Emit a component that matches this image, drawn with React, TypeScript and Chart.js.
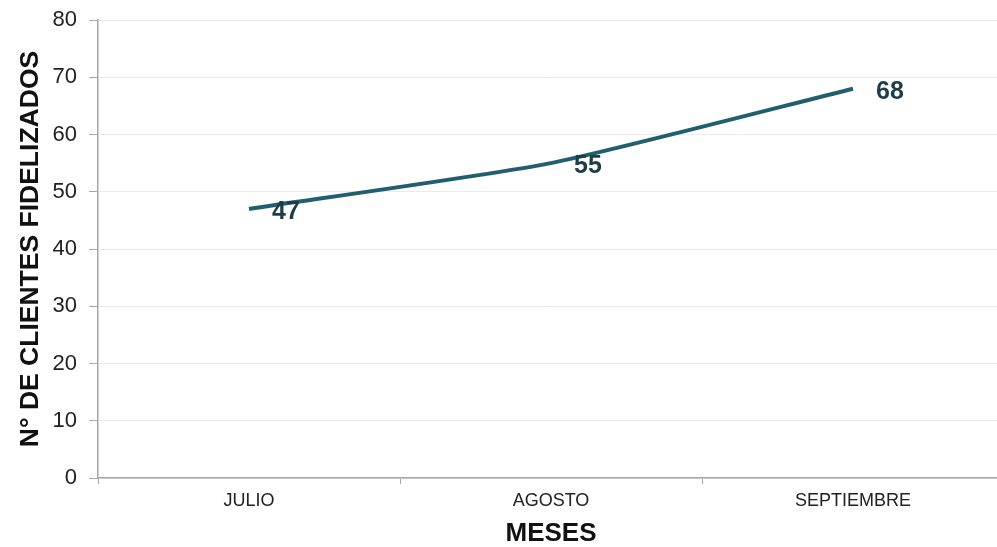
import React, { useEffect, useRef } from "react";
import { Chart, registerables } from "chart.js";

Chart.register(...registerables);

const meses = ["JULIO", "AGOSTO", "SEPTIEMBRE"];
const clientesFidelizados = [47, 55, 68];
const yTicks = [0, 10, 20, 30, 40, 50, 60, 70, 80];

const LINE_COLOR = "#215F6E";
const LABEL_COLOR = "#1D3E49";

// Draws each point's value to the right of the point
const valueLabels = {
  id: "valueLabels",
  afterDatasetsDraw(chart: any) {
    const ctx = chart.ctx;
    const meta = chart.getDatasetMeta(0);
    ctx.save();
    ctx.font = "bold 25px 'Liberation Sans', Arial, sans-serif";
    ctx.fillStyle = LABEL_COLOR;
    ctx.textAlign = "center";
    ctx.textBaseline = "middle";
    meta.data.forEach((pt: any, i: number) => {
      ctx.fillText(String(chart.data.datasets[0].data[i]), pt.x + 37, pt.y + 3);
    });
    ctx.restore();
  },
};

export default function App() {
  const canvasRef = useRef<HTMLCanvasElement | null>(null);

  useEffect(() => {
    if (!canvasRef.current) return;
    const chart = new Chart(canvasRef.current, {
      type: "line",
      data: {
        labels: meses,
        datasets: [
          {
            data: clientesFidelizados,
            borderColor: LINE_COLOR,
            borderWidth: 4,
            pointRadius: 0,
            tension: 0.18,
            fill: false,
          },
        ],
      },
      options: {
        animation: false,
        responsive: false,
        layout: { padding: { left: 0, right: 6, top: 20, bottom: 0 } },
        plugins: { legend: { display: false }, tooltip: { enabled: false } },
        scales: {
          x: {
            offset: true,
            afterFit: (s: any) => {
              s.height = 69;
              s.paddingLeft = 0;
              s.paddingRight = 0;
            },
            grid: {
              offset: true,
              drawOnChartArea: false,
              drawTicks: true,
              tickLength: 6,
              color: "#a6a6a6",
            },
            border: { color: "#a6a6a6", width: 1.5 },
            ticks: {
              color: "#222",
              padding: 6,
              font: { family: "'Liberation Sans Narrow', 'Liberation Sans', Arial", size: 18 },
            },
            title: {
              display: true,
              text: "MESES",
              color: "#111",
              padding: { top: 0, bottom: 0 },
              font: { family: "'Liberation Sans', Arial", size: 26, weight: "bold", lineHeight: 1 },
            },
          },
          y: {
            min: 0,
            max: 80,
            afterFit: (s: any) => {
              s.width = 98;
              s.paddingTop = 0;
              s.paddingBottom = 0;
            },
            afterBuildTicks: (s: any) => {
              s.ticks = yTicks.map((v) => ({ value: v }));
            },
            grid: {
              color: "#ebebeb",
              lineWidth: 1,
              tickLength: 9,
              tickColor: "#a6a6a6",
            },
            border: { color: "#a6a6a6", width: 1.5 },
            ticks: {
              color: "#222",
              padding: 12,
              font: { family: "'Liberation Sans', Arial", size: 22 },
            },
            title: {
              display: true,
              text: "N° DE CLIENTES FIDELIZADOS",
              color: "#111",
              padding: { top: 15, bottom: 0 },
              font: { family: "'Liberation Sans', Arial", size: 26.5, weight: "bold", lineHeight: 1.2 },
            },
          },
        },
      },
      plugins: [valueLabels],
    });
    return () => chart.destroy();
  }, []);

  return (
    <div
      style={{
        position: "fixed",
        left: 0,
        top: 0,
        width: 997,
        height: 547,
        overflow: "hidden",
        background: "#fff",
      }}
    >
      <canvas ref={canvasRef} width={1010} height={547} style={{ display: "block" }} />
    </div>
  );
}
